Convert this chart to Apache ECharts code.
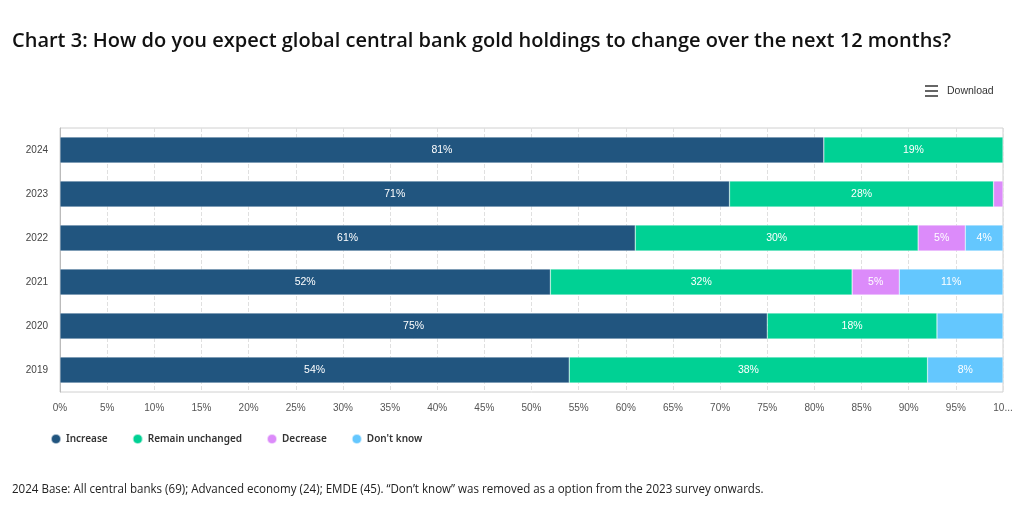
<!DOCTYPE html>
<html><head><meta charset="utf-8">
<script src="https://cdn.jsdelivr.net/npm/echarts@6/dist/echarts.min.js"></script>
<style>html,body{margin:0;padding:0;background:#fff}#c{width:1024px;height:514px}</style>
</head><body><div id="c"></div>
<script>
const categories = ['2019','2020','2021','2022','2023','2024'];
const increase = [54, 75, 52, 61, 71, 81];
const remainUnchanged = [38, 18, 32, 30, 28, 19];
const decrease = [0, 0, 5, 5, 1, 0];
const dontKnow = [8, 7, 11, 4, 0, 0];
const hiddenLabels = { 'Decrease': ['2023'], "Don't know": ['2020'] };
const xTicks = [0,5,10,15,20,25,30,35,40,45,50,55,60,65,70,75,80,85,90,95,100];
const titleText = 'Chart 3: How do you expect global central bank gold holdings to change over the next 12 months?';
const noteText = '2024 Base: All central banks (69); Advanced economy (24); EMDE (45). \u201cDon\u2019t know\u201d was removed as a option from the 2023 survey onwards.';

const colors = { 'Increase':'#21557F', 'Remain unchanged':'#00D194', 'Decrease':'#DC8BFA', "Don't know":'#64C7FE' };
function mk(name, vals){
  return {
    name, type:'bar', stack:'s', barWidth:'59%',
    itemStyle:{ color: colors[name], borderColor:'rgba(255,255,255,0.6)', borderWidth:0.5 },
    label:{ show:true, color:'#fff', fontSize:10.5, fontFamily:'Liberation Sans, Arial',
      formatter: p => (p.value > 0 && !(hiddenLabels[name]||[]).includes(p.name)) ? p.value + '%' : '' },
    data: vals.map(v => v === 0 ? null : v)
  };
}
const chart = echarts.init(document.getElementById('c'), null, {renderer:'canvas'});
chart.setOption({
  animation:false,
  grid:{ left:60, right:21, top:128, bottom:122, show:true, borderColor:'#d0d0d0', borderWidth:1 },
  legend:{ left:45, top:428, icon:'circle', itemWidth:10, itemHeight:10, itemGap:24,
    textStyle:{ fontSize:10, color:'#333', fontWeight:600, fontFamily:'Noto Sans' } },
  xAxis:{ type:'value', min:0, max:100, interval:5,
    axisLine:{show:false}, axisTick:{show:false},
    splitLine:{ show:true, lineStyle:{ color:'#e0e0e0', type:'dashed' } },
    axisLabel:{ color:'#555', fontSize:10, fontFamily:'Liberation Sans, Arial', margin:11,
      formatter: v => v === 100 ? '10...' : v + '%' } },
  yAxis:{ type:'category', data:categories,
    axisLine:{ show:true, lineStyle:{ color:'#bbb' } }, axisTick:{show:false},
    axisLabel:{ color:'#444', fontSize:10, fontFamily:'Liberation Sans, Arial', margin:12 } },
  graphic:[
    { type:'text', left:12, top:31, style:{ text:titleText, fontSize:20, fontWeight:600, fontFamily:'Open Sans', fill:'#111' } },
    { type:'text', x:12, y:484, scaleX:0.964, style:{ text:noteText, fontSize:12, fontFamily:'Open Sans', fill:'#222' } },
    { type:'group', left:925, top:85, children:[
      { type:'rect', shape:{x:0,y:0,width:13,height:2}, style:{fill:'#666'} },
      { type:'rect', shape:{x:0,y:5,width:13,height:2}, style:{fill:'#666'} },
      { type:'rect', shape:{x:0,y:10,width:13,height:2}, style:{fill:'#666'} } ] },
    { type:'text', left:947, top:86, style:{ text:'Download', fontSize:10.5, fontFamily:'Liberation Sans, Arial', fill:'#333' } }
  ],
  series:[ mk('Increase', increase), mk('Remain unchanged', remainUnchanged), mk('Decrease', decrease), mk("Don't know", dontKnow) ]
});
</script></body></html>
